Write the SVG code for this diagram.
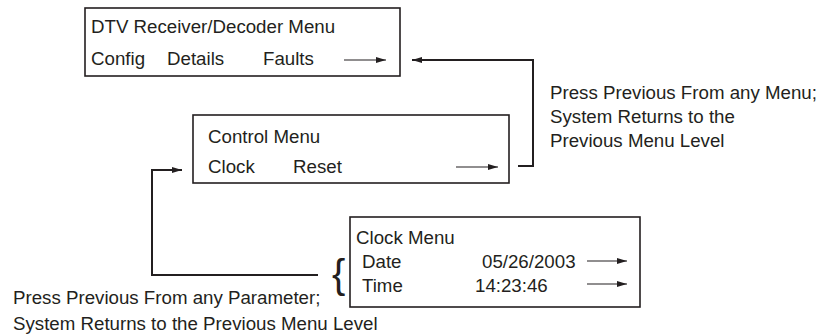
<svg xmlns="http://www.w3.org/2000/svg" width="823" height="335" viewBox="0 0 823 335">
  <defs>
    <marker id="head" viewBox="0 0 10 6" refX="10" refY="3" markerWidth="10" markerHeight="6" markerUnits="userSpaceOnUse" orient="auto">
      <path d="M0,0 L10,3 L0,6 Z" fill="#231f20"/>
    </marker>
    <style>
      text { font-family: "Liberation Sans", Arial, Helvetica, sans-serif; font-size: 18.7px; fill: #231f20; }
      .box { fill: #ffffff; stroke: #231f20; stroke-width: 1.6; }
      .wire { fill: none; stroke: #231f20; stroke-width: 2; }
      .tick { fill: none; stroke: #231f20; stroke-width: 1.2; marker-end: url(#head); }
    </style>
  </defs>
  <rect width="823" height="335" fill="#ffffff"/>

  <!-- top-level menu -->
  <g id="dtv-menu">
    <rect class="box" x="85" y="8" width="315" height="68"/>
    <text x="91" y="33">DTV Receiver/Decoder Menu</text>
    <text x="91" y="65">Config</text>
    <text x="167" y="65">Details</text>
    <text x="263" y="65">Faults</text>
    <line class="tick" x1="344" y1="60" x2="386" y2="60"/>
  </g>

  <!-- control menu -->
  <g id="control-menu">
    <rect class="box" x="193" y="115" width="316" height="68"/>
    <text x="208" y="143">Control Menu</text>
    <text x="208" y="173">Clock</text>
    <text x="293" y="173">Reset</text>
    <line class="tick" x1="456" y1="167" x2="498" y2="167"/>
  </g>

  <!-- clock menu -->
  <g id="clock-menu">
    <rect class="box" x="350" y="217" width="290" height="90"/>
    <text x="356" y="244">Clock Menu</text>
    <text x="362" y="268">Date</text>
    <text x="482" y="268">05/26/2003</text>
    <text x="362" y="292">Time</text>
    <text x="475" y="292">14:23:46</text>
    <line class="tick" x1="587" y1="261" x2="627" y2="261"/>
    <line class="tick" x1="587" y1="284" x2="627" y2="284"/>
    <text x="332" y="288" style="font-size:40px">{</text>
  </g>

  <!-- return paths -->
  <g id="connectors">
    <path class="wire" d="M518,166 H533 V60 H412" marker-end="url(#head)"/>
    <path class="wire" d="M318,275 H152 V170 H182" marker-end="url(#head)"/>
  </g>

  <!-- notes -->
  <g id="notes">
    <text x="550" y="99">Press Previous From any Menu;</text>
    <text x="550" y="123">System Returns to the</text>
    <text x="550" y="147">Previous Menu Level</text>
    <text x="13" y="304">Press Previous From any Parameter;</text>
    <text x="13" y="330">System Returns to the Previous Menu Level</text>
  </g>
</svg>
